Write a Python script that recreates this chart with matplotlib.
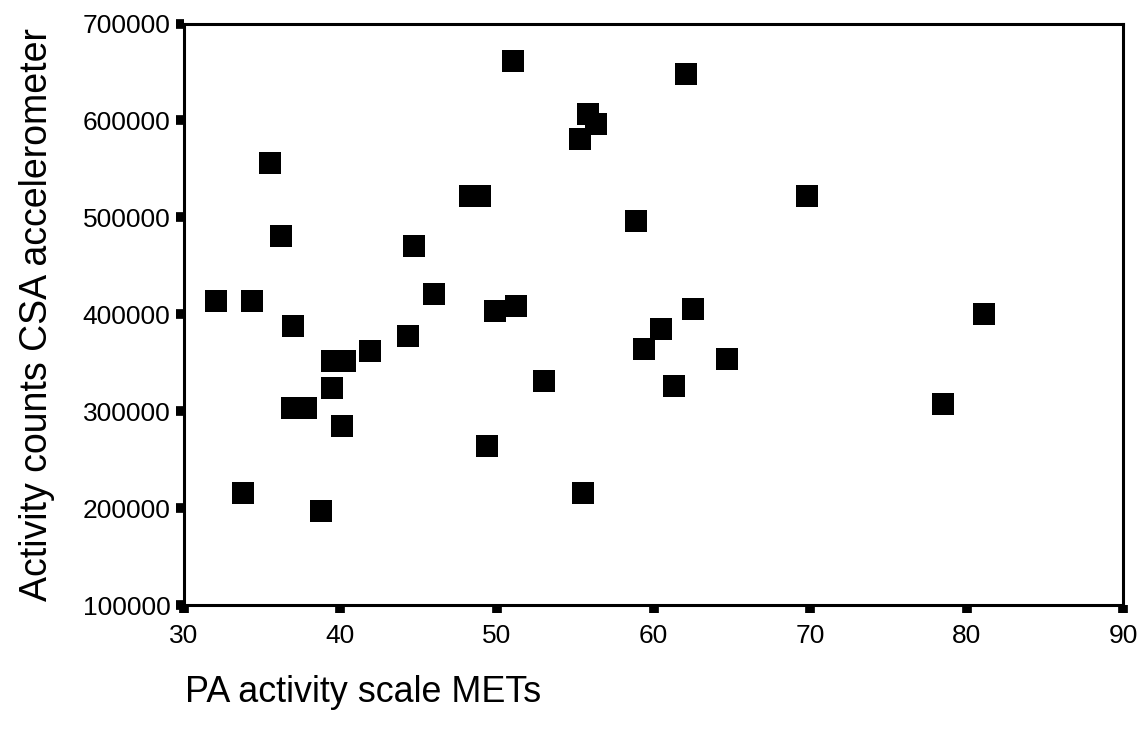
import matplotlib
matplotlib.use("Agg")
import matplotlib.pyplot as plt

# PA activity scale (METs) vs CSA accelerometer activity counts
mets = [
    32.1, 34.4, 35.5, 36.2, 37.0, 36.9, 37.8, 33.8, 38.8, 39.5,
    40.3, 39.5, 40.1, 41.9, 44.3, 44.7, 46.0, 48.3, 48.9, 49.9,
    51.2, 49.4, 51.0, 53.0, 55.8, 56.3, 55.3, 55.5, 58.9, 59.4,
    60.5, 61.3, 62.1, 62.5, 64.7, 69.8, 78.5, 81.1,
]
counts = [
    413400, 413400, 555700, 480500, 388000, 302900, 302900, 215200, 197100, 351900,
    351900, 323500, 284800, 362000, 377300, 470400, 421400, 522000, 522000, 403300,
    408500, 264200, 661300, 331100, 606900, 596600, 581100, 215300, 496200, 364600,
    385200, 326100, 648200, 405900, 354300, 521800, 307800, 400700,
]

x_ticks = [30, 40, 50, 60, 70, 80, 90]
y_ticks = [100000, 200000, 300000, 400000, 500000, 600000, 700000]

plt.rcParams["font.family"] = ["Liberation Sans", "DejaVu Sans"]

fig = plt.figure(figsize=(11.42, 7.37), dpi=100)
ax = fig.add_axes([0.1607, 0.179, 0.8231, 0.789])

ax.scatter(mets, counts, marker="s", s=16.3 ** 2, color="black", linewidths=0,
           clip_on=False, zorder=3)

ax.set_xlim(30, 90)
ax.set_ylim(100000, 700000)
ax.set_xticks(x_ticks)
ax.set_yticks(y_ticks)
ax.set_xticklabels([str(t) for t in x_ticks])
ax.set_yticklabels([str(t) for t in y_ticks])

ax.tick_params(direction="out", length=5.5, width=7, color="black",
               labelsize=19, pad=4)
ax.tick_params(axis="x", pad=8)

for spine in ax.spines.values():
    spine.set_linewidth(2.2)
    spine.set_color("black")

ax.set_ylabel("Activity counts CSA accelerometer", fontsize=27)
ax.yaxis.set_label_coords(-0.137, 0.5)

fig.text(185 / 1142, 1 - 692 / 737, "PA activity scale METs", fontsize=25.8,
         ha="left", va="center")

fig.savefig("out.png", dpi=100, facecolor="white")
